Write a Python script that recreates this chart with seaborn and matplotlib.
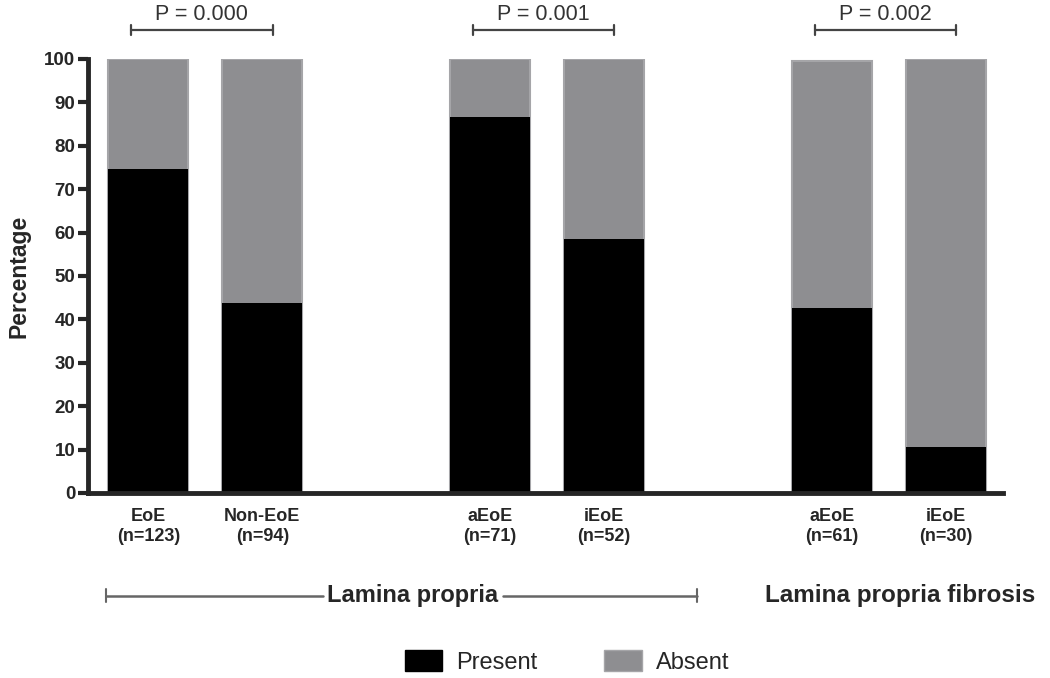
import numpy as np
import pandas as pd
import matplotlib.pyplot as plt
import seaborn as sns
from matplotlib.patches import Patch

# values
groups = ['EoE\n(n=123)', 'Non-EoE\n(n=94)', 'aEoE\n(n=71)', 'iEoE\n(n=52)', 'aEoE\n(n=61)', 'iEoE\n(n=30)']
positions = [0, 1, 3, 4, 6, 7]
present = [74.7, 43.8, 86.6, 58.5, 42.6, 10.5]
absent = [25.3, 56.2, 13.4, 41.5, 56.9, 89.5]
p_values = ['P = 0.000', 'P = 0.001', 'P = 0.002']
p_pairs = [(0, 1), (3, 4), (6, 7)]
yticks = [0, 10, 20, 30, 40, 50, 60, 70, 80, 90, 100]

df = pd.DataFrame({'pos': positions, 'present': present,
                   'total': np.add(present, absent)})

sns.set_style('ticks')
plt.rcParams['font.family'] = ['Liberation Sans', 'DejaVu Sans']

GREY = '#8e8e91'

fig = plt.figure(figsize=(10.5, 6.78), dpi=100)
ax = fig.add_axes([0.0838, 0.2729, 0.8712, 0.6401])

sns.barplot(data=df, x='pos', y='total', native_scale=True, width=0.7,
            color=GREY, saturation=1, edgecolor='#a5a5a8', linewidth=1.5, ax=ax)
sns.barplot(data=df, x='pos', y='present', native_scale=True, width=0.7,
            color='black', saturation=1, linewidth=0, ax=ax)

ax.set_xlim(-0.53, 7.5)
ax.set_ylim(0, 100)
ax.set_yticks(yticks)
ax.set_yticklabels([str(t) for t in yticks], fontsize=13.5, fontweight='bold')
ax.set_xticks(positions)
ax.set_xticklabels(groups, fontsize=13, fontweight='bold', linespacing=1.2)
ax.tick_params(axis='x', length=0, pad=11)
ax.tick_params(axis='y', length=7, width=3, pad=2)
ax.set_xlabel('')
ax.set_ylabel('Percentage', fontsize=16.5, fontweight='bold', labelpad=10)
sns.despine(ax=ax)
for s in ['left', 'bottom']:
    ax.spines[s].set_linewidth(3.5)

# p-value brackets above the bars
for (a, b), txt in zip(p_pairs, p_values):
    x0, x1 = a - 0.15, b + 0.09
    y = 106.7
    ax.plot([x0, x1], [y, y], color='#444444', lw=1.6, clip_on=False)
    for xx in (x0, x1):
        ax.plot([xx, xx], [y - 1.2, y + 1.2], color='#444444', lw=1.6, clip_on=False)
    ax.text((x0 + x1) / 2, 110.3, txt, ha='center', va='center', fontsize=15.5,
            color='#333333', clip_on=False)

# group labels below the axis
tr = ax.get_xaxis_transform()
yb = -0.237
ax.plot([-0.37, 1.53], [yb, yb], color='#666666', lw=1.8, transform=tr, clip_on=False)
ax.plot([3.11, 4.82], [yb, yb], color='#666666', lw=1.8, transform=tr, clip_on=False)
for xx in (-0.37, 4.82):
    ax.plot([xx, xx], [yb - 0.015, yb + 0.015], color='#666666', lw=1.5, transform=tr, clip_on=False)
ax.text(2.32, yb, 'Lamina propria', transform=tr, ha='center', va='center',
        fontsize=17, fontweight='bold')
ax.text(6.6, yb, 'Lamina propria fibrosis', transform=tr, ha='center', va='center',
        fontsize=17.5, fontweight='bold')

handles = [Patch(facecolor='black', edgecolor='black', label='Present'),
           Patch(facecolor=GREY, edgecolor='#a5a5a8', label='Absent')]
fig.legend(handles=handles, loc='center', bbox_to_anchor=(0.54, 0.024), ncol=2,
           frameon=False, fontsize=17, handlelength=1.6, handleheight=1.0,
           handletextpad=0.6, columnspacing=2.8)

fig.savefig('out.png', dpi=100)
